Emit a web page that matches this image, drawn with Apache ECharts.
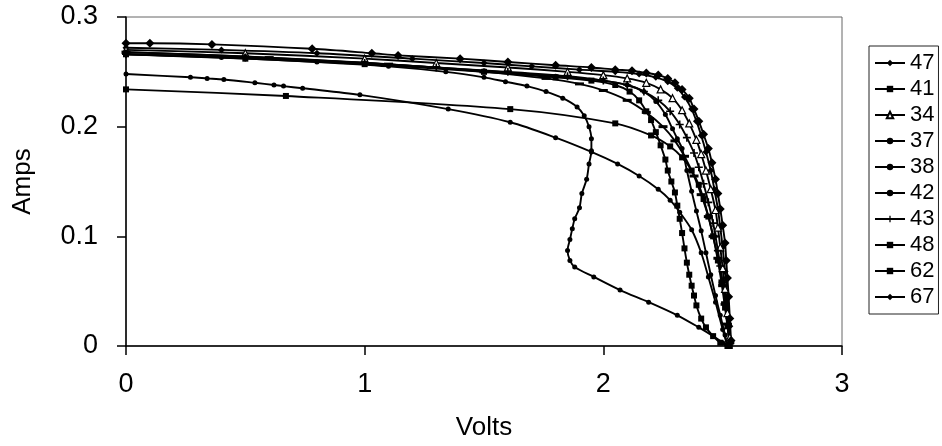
<!DOCTYPE html>
<html>
<head>
<meta charset="utf-8">
<script src="https://cdn.jsdelivr.net/npm/echarts@6/dist/echarts.min.js"></script>
<style>
  html, body { margin: 0; padding: 0; background: #fff; }
  #main { width: 942px; height: 446px; }
</style>
</head>
<body>
<div id="main"></div>
<script>
// legend order as in the original
let names = ['47', '41', '34', '37', '38', '42', '43', '48', '62', '67'];

// volts / amps for each run
let v47 = [0, 0.4, 0.8, 1.2, 1.5, 1.7, 1.9, 2.05, 2.15, 2.22, 2.27, 2.31, 2.34, 2.37, 2.39, 2.41, 2.43, 2.45, 2.465, 2.48, 2.49, 2.5, 2.51, 2.52, 2.53];
let i47 = [0.272, 0.27, 0.267, 0.262, 0.258, 0.255, 0.252, 0.25, 0.248, 0.245, 0.241, 0.235, 0.227, 0.216, 0.205, 0.192, 0.177, 0.16, 0.143, 0.125, 0.108, 0.09, 0.068, 0.045, 0.018];

let v41 = [0, 0.67, 1.61, 2.05, 2.2, 2.28, 2.33, 2.37, 2.4, 2.42, 2.44, 2.46, 2.48, 2.495, 2.51, 2.52, 2.53];
let i41 = [0.234, 0.228, 0.216, 0.203, 0.192, 0.182, 0.172, 0.16, 0.147, 0.134, 0.118, 0.1, 0.078, 0.058, 0.035, 0.018, 0];

let v34 = [0, 0.5, 1.0, 1.3, 1.6, 1.85, 2.0, 2.1, 2.18, 2.24, 2.29, 2.33, 2.36, 2.39, 2.41, 2.43, 2.45, 2.47, 2.48, 2.49, 2.5, 2.51, 2.52, 2.53];
let i34 = [0.27, 0.267, 0.262, 0.258, 0.254, 0.25, 0.247, 0.244, 0.24, 0.234, 0.226, 0.215, 0.203, 0.188, 0.175, 0.16, 0.143, 0.124, 0.108, 0.09, 0.071, 0.052, 0.03, 0.008];

let v37 = [0, 0.4, 0.8, 1.1, 1.34, 1.5, 1.59, 1.68, 1.76, 1.83, 1.89, 1.92, 1.94, 1.95, 1.95, 1.94, 1.93, 1.91, 1.9, 1.88, 1.87, 1.86, 1.85, 1.86, 1.88, 1.96, 2.07, 2.19, 2.31, 2.4, 2.46, 2.5, 2.52];
let i37 = [0.266, 0.263, 0.259, 0.255, 0.25, 0.245, 0.241, 0.237, 0.232, 0.226, 0.218, 0.21, 0.2, 0.189, 0.178, 0.166, 0.152, 0.139, 0.126, 0.116, 0.107, 0.097, 0.087, 0.078, 0.072, 0.063, 0.051, 0.04, 0.028, 0.017, 0.009, 0.003, 0];

let v38 = [0, 0.5, 1.0, 1.5, 1.8, 2.0, 2.1, 2.17, 2.22, 2.26, 2.29, 2.31, 2.33, 2.35, 2.37, 2.39, 2.41, 2.43, 2.45, 2.47, 2.49, 2.51, 2.52];
let i38 = [0.268, 0.264, 0.258, 0.251, 0.246, 0.242, 0.238, 0.232, 0.223, 0.211, 0.198, 0.189, 0.18, 0.16, 0.141, 0.123, 0.105, 0.085, 0.065, 0.046, 0.028, 0.01, 0];

let v42 = [0, 0.27, 0.34, 0.41, 0.54, 0.62, 0.66, 0.74, 0.98, 1.35, 1.61, 1.8, 1.95, 2.06, 2.15, 2.23, 2.28, 2.32, 2.37, 2.41, 2.44, 2.47, 2.5, 2.52];
let i42 = [0.248, 0.245, 0.244, 0.243, 0.24, 0.238, 0.237, 0.235, 0.229, 0.216, 0.204, 0.19, 0.177, 0.166, 0.155, 0.143, 0.133, 0.122, 0.106, 0.085, 0.063, 0.04, 0.015, 0];

let v43 = [0, 0.5, 1.0, 1.3, 1.6, 1.85, 2.0, 2.1, 2.17, 2.23, 2.28, 2.32, 2.35, 2.38, 2.4, 2.42, 2.44, 2.46, 2.47, 2.48, 2.49, 2.5, 2.51, 2.52, 2.53];
let i43 = [0.266, 0.263, 0.258, 0.254, 0.25, 0.246, 0.242, 0.238, 0.232, 0.224, 0.214, 0.202, 0.19, 0.176, 0.163, 0.148, 0.131, 0.112, 0.1, 0.087, 0.073, 0.058, 0.04, 0.02, 0.002];

let v48 = [0, 0.5, 1.0, 1.5, 1.8, 1.95, 2.05, 2.11, 2.15, 2.18, 2.2, 2.22, 2.24, 2.26, 2.27, 2.285, 2.3, 2.31, 2.32, 2.33, 2.34, 2.35, 2.36, 2.37, 2.38, 2.39, 2.41, 2.43, 2.46, 2.49, 2.52];
let i48 = [0.266, 0.262, 0.257, 0.25, 0.245, 0.242, 0.238, 0.232, 0.224, 0.214, 0.206, 0.195, 0.183, 0.17, 0.16, 0.15, 0.14, 0.128, 0.116, 0.103, 0.089, 0.076, 0.065, 0.055, 0.046, 0.037, 0.025, 0.017, 0.009, 0.003, 0];

let v62 = [0, 0.6, 1.1, 1.5, 1.76, 1.9, 2.0, 2.1, 2.18, 2.25, 2.3, 2.34, 2.38, 2.41, 2.44, 2.46, 2.48, 2.5, 2.51, 2.52, 2.53];
let i62 = [0.268, 0.263, 0.257, 0.25, 0.244, 0.239, 0.233, 0.224, 0.213, 0.2, 0.187, 0.173, 0.155, 0.138, 0.118, 0.1, 0.08, 0.055, 0.038, 0.02, 0.003];

let v67 = [0, 0.1, 0.36, 0.78, 1.03, 1.14, 1.4, 1.6, 1.8, 1.95, 2.05, 2.12, 2.18, 2.23, 2.27, 2.3, 2.33, 2.36, 2.38, 2.4, 2.42, 2.44, 2.455, 2.47, 2.48, 2.49, 2.5, 2.51, 2.515, 2.52, 2.525, 2.53, 2.535];
let i67 = [0.276, 0.276, 0.275, 0.271, 0.267, 0.265, 0.262, 0.259, 0.256, 0.254, 0.252, 0.251, 0.249, 0.247, 0.244, 0.24, 0.234, 0.226, 0.216, 0.205, 0.193, 0.18, 0.167, 0.152, 0.139, 0.125, 0.11, 0.094, 0.078, 0.062, 0.045, 0.025, 0.005];

let xTicks = [0, 1, 2, 3];
let yTicks = [0, 0.1, 0.2, 0.3];

function pairs(v, a) {
    let out = [];
    for (let i = 0; i < v.length; i = i + 1) {
        out.push([v[i], a[i]]);
    }
    return out;
}

let plusPath = 'path://M4,0H6V4H10V6H6V10H4V6H0V4H4Z';

let runs = {
    '47': { v: v47, a: i47, symbol: 'diamond', size: 7 },
    '41': { v: v41, a: i41, symbol: 'rect', size: 6 },
    '34': { v: v34, a: i34, symbol: 'triangle', size: 7, hollow: true },
    '37': { v: v37, a: i37, symbol: 'circle', size: 5 },
    '38': { v: v38, a: i38, symbol: 'circle', size: 5 },
    '42': { v: v42, a: i42, symbol: 'circle', size: 5 },
    '43': { v: v43, a: i43, symbol: plusPath, size: 8 },
    '48': { v: v48, a: i48, symbol: 'rect', size: 6 },
    '62': { v: v62, a: i62, symbol: 'rect', size: [9, 3] },
    '67': { v: v67, a: i67, symbol: 'diamond', size: 9 }
};

let series = names.map(function (n) {
    let r = runs[n];
    return {
        name: n,
        type: 'line',
        data: pairs(r.v, r.a),
        smooth: 0.3,
        symbol: r.symbol,
        symbolSize: r.size,
        showAllSymbol: true,
        lineStyle: { color: '#000', width: 1.9 },
        itemStyle: r.hollow
            ? { color: '#fff', borderColor: '#000', borderWidth: 1.2 }
            : { color: '#000' },
        emphasis: { disabled: true }
    };
});

let myChart = echarts.init(document.getElementById('main'));

let font = "'Liberation Sans', Arial, sans-serif";

let option = {
    animation: false,
    backgroundColor: '#fff',
    textStyle: { fontFamily: font },
    grid: {
        left: 126,
        right: 100,
        top: 17,
        bottom: 98,
        show: true,
        borderColor: '#666',
        borderWidth: 1
    },
    legend: {
        orient: 'vertical',
        left: 869,
        top: 46,
        data: names,
        itemWidth: 30,
        itemHeight: 8,
        itemGap: 4,
        padding: [6, 4, 6, 5],
        borderColor: '#222',
        borderWidth: 1,
        textStyle: { fontSize: 22, color: '#000', fontFamily: font }
    },
    xAxis: {
        type: 'value',
        min: xTicks[0],
        max: xTicks[xTicks.length - 1],
        interval: 1,
        name: 'Volts',
        nameLocation: 'middle',
        nameGap: 69,
        nameTextStyle: { fontSize: 26, color: '#000', fontFamily: font },
        splitLine: { show: false },
        axisLine: { lineStyle: { color: '#000', width: 1.5 } },
        axisTick: { show: true, length: 9, lineStyle: { color: '#000', width: 1.5 } },
        axisLabel: { fontSize: 27, color: '#000', margin: 25, fontFamily: font }
    },
    yAxis: {
        type: 'value',
        min: yTicks[0],
        max: yTicks[yTicks.length - 1],
        interval: 0.1,
        name: 'Amps',
        nameLocation: 'middle',
        nameGap: 90,
        nameTextStyle: { fontSize: 26, color: '#000', fontFamily: font },
        splitLine: { show: false },
        axisLine: { show: true, lineStyle: { color: '#000', width: 1.5 } },
        axisTick: { show: true, length: 9, lineStyle: { color: '#000', width: 1.5 } },
        axisLabel: { fontSize: 27, color: '#000', margin: 28, fontFamily: font }
    },
    series: series
};

myChart.setOption(option);
</script>
</body>
</html>
